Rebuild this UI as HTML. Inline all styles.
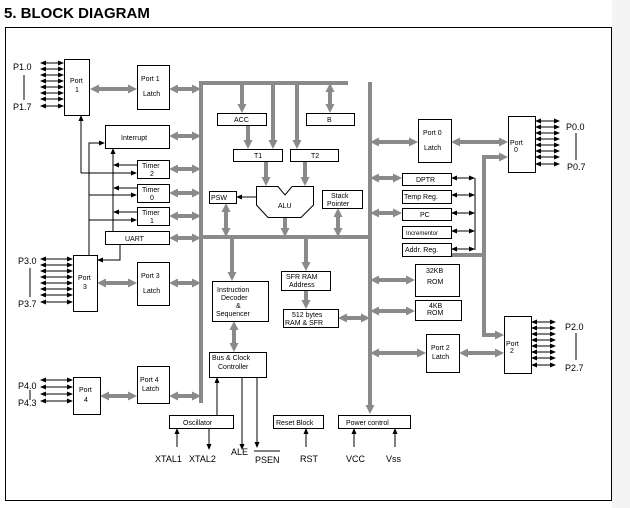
<!DOCTYPE html>
<html><head><meta charset="utf-8"><style>
html,body{margin:0;padding:0;background:#fff}
svg{display:block}
text{font-family:"Liberation Sans",sans-serif;fill:#000}
.b{fill:#fff;stroke:#000;stroke-width:1}
.g{stroke:#8a8a8a;stroke-width:4;fill:none}
.k{stroke:#000;stroke-width:1;fill:none}
.s{font-size:7px}
.p{font-size:9px}
</style></head><body>
<svg id="sv" width="630" height="508" viewBox="0 0 630 508" xmlns="http://www.w3.org/2000/svg">
<rect x="612" y="0" width="18" height="508" fill="#f4f4f4"/>
<text x="4" y="18" style="font-size:15px;font-weight:bold">5. BLOCK DIAGRAM</text>
<rect x="5.5" y="27.5" width="606" height="473" fill="none" stroke="#000"/>
<path class="g" d="M201,82V403M199,83H348M370,82V400M201,237H370"/>
<path class="k" d="M24,75V100M30,268V297M30,390V400M576,133V160M576,333V360M475,178V250"/>
<g id="arr"></g>
<text class="p" x="13" y="70">P1.0</text><text class="p" x="13" y="110">P1.7</text>
<text class="p" x="18" y="264">P3.0</text><text class="p" x="18" y="307">P3.7</text>
<text class="p" x="18" y="389">P4.0</text><text class="p" x="18" y="406">P4.3</text>
<text class="p" x="566" y="130">P0.0</text><text class="p" x="567" y="170">P0.7</text>
<text class="p" x="565" y="330">P2.0</text><text class="p" x="565" y="371">P2.7</text>

<rect class="b" x="64.5" y="59.5" width="25" height="56"/><text class="s" x="70" y="83">Port</text><text class="s" x="75" y="92">1</text>
<rect class="b" x="137.5" y="65.5" width="32" height="44"/><text class="s" x="141" y="81">Port 1</text><text class="s" x="143" y="96">Latch</text>
<rect class="b" x="105.5" y="125.5" width="64" height="23"/><text class="s" x="121" y="140">Interrupt</text>
<rect class="b" x="137.5" y="160.5" width="32" height="18"/><text class="s" x="142" y="168">Timer</text><text class="s" x="150" y="176">2</text>
<rect class="b" x="137.5" y="184.5" width="32" height="18"/><text class="s" x="142" y="192">Timer</text><text class="s" x="150" y="200">0</text>
<rect class="b" x="137.5" y="207.5" width="32" height="18"/><text class="s" x="142" y="215">Timer</text><text class="s" x="150" y="223">1</text>
<rect class="b" x="105.5" y="231.5" width="64" height="13"/><text class="s" x="125" y="241">UART</text>
<rect class="b" x="73.5" y="255.5" width="24" height="56"/><text class="s" x="78" y="280">Port</text><text class="s" x="83" y="289">3</text>
<rect class="b" x="137.5" y="262.5" width="32" height="43"/><text class="s" x="141" y="278">Port 3</text><text class="s" x="143" y="293">Latch</text>
<rect class="b" x="73.5" y="377.5" width="27" height="37"/><text class="s" x="79" y="392">Port</text><text class="s" x="84" y="402">4</text>
<rect class="b" x="137.5" y="366.5" width="32" height="37"/><text class="s" x="140" y="382">Port 4</text><text class="s" x="142" y="391">Latch</text>
<rect class="b" x="217.5" y="113.5" width="49" height="12"/><text class="s" x="234" y="122">ACC</text>
<rect class="b" x="306.5" y="113.5" width="48" height="12"/><text class="s" x="327" y="122">B</text>
<rect class="b" x="233.5" y="149.5" width="49" height="12"/><text class="s" x="254" y="158">T1</text>
<rect class="b" x="290.5" y="149.5" width="48" height="12"/><text class="s" x="311" y="158">T2</text>
<path class="b" d="M256.5,186.5H278L285,195L292,186.5H313.5V205L301,217.5H268L256.5,205Z"/><text class="s" x="278" y="208">ALU</text>
<rect class="b" x="209.5" y="191.5" width="27" height="12"/><text class="s" x="211" y="200">PSW</text>
<rect class="b" x="322.5" y="190.5" width="40" height="18"/><text class="s" x="331" y="198">Stack</text><text class="s" x="327" y="206">Pointer</text>
<rect class="b" x="212.5" y="281.5" width="56" height="40"/><text class="s" x="217" y="292">Instruction</text><text class="s" x="221" y="300">Decoder</text><text class="s" x="236" y="308">&amp;</text><text class="s" x="216" y="316">Sequencer</text>
<rect class="b" x="281.5" y="271.5" width="49" height="19"/><text class="s" x="286" y="279">SFR RAM</text><text class="s" x="289" y="287">Address</text>
<rect class="b" x="283.5" y="309.5" width="55" height="18"/><text class="s" x="292" y="317">512 bytes</text><text class="s" x="285" y="325">RAM &amp; SFR</text>
<rect class="b" x="209.5" y="352.5" width="57" height="25"/><text class="s" x="212" y="360">Bus &amp; Clock</text><text class="s" x="218" y="369">Controller</text>
<rect class="b" x="169.5" y="415.5" width="64" height="13"/><text class="s" x="183" y="425">Oscillator</text>
<rect class="b" x="273.5" y="415.5" width="50" height="13"/><text class="s" x="276" y="425">Reset Block</text>
<rect class="b" x="338.5" y="415.5" width="72" height="13"/><text class="s" x="346" y="425">Power control</text>
<text class="p" x="155" y="462">XTAL1</text><text class="p" x="189" y="462">XTAL2</text>
<text class="p" x="231" y="455">ALE</text><text class="p" x="255" y="463">PSEN</text><path class="k" d="M254,451H280"/>
<text class="p" x="300" y="462">RST</text><text class="p" x="346" y="462">VCC</text><text class="p" x="386" y="462">Vss</text>
<rect class="b" x="418.5" y="119.5" width="33" height="43"/><text class="s" x="423" y="135">Port 0</text><text class="s" x="424" y="150">Latch</text>
<rect class="b" x="508.5" y="116.5" width="27" height="56"/><text class="s" x="510" y="145">Port</text><text class="s" x="514" y="152">0</text>
<rect class="b" x="402.5" y="173.5" width="49" height="12"/><text class="s" x="416" y="182">DPTR</text>
<rect class="b" x="402.5" y="190.5" width="49" height="13"/><text class="s" x="404" y="199">Temp Reg.</text>
<rect class="b" x="402.5" y="208.5" width="49" height="12"/><text class="s" x="420" y="217">PC</text>
<rect class="b" x="402.5" y="226.5" width="49" height="12"/><text x="406" y="235" style="font-size:6px">Incrementor</text>
<rect class="b" x="402.5" y="243.5" width="49" height="13"/><text class="s" x="405" y="252">Addr. Reg.</text>
<rect class="b" x="415.5" y="264.5" width="44" height="32"/><text class="s" x="426" y="273">32KB</text><text class="s" x="427" y="284">ROM</text>
<rect class="b" x="415.5" y="300.5" width="46" height="20"/><text class="s" x="429" y="308">4KB</text><text class="s" x="427" y="315">ROM</text>
<rect class="b" x="426.5" y="334.5" width="33" height="38"/><text class="s" x="431" y="350">Port 2</text><text class="s" x="432" y="359">Latch</text>
<rect class="b" x="504.5" y="316.5" width="27" height="57"/><text class="s" x="506" y="346">Port</text><text class="s" x="510" y="353">2</text>
</svg>
<script>
(function(){
var NS="http://www.w3.org/2000/svg",G=document.getElementById("arr"),out="";
function head(x,y,px,py,L,W,c){var dx=x-px,dy=y-py,d=Math.hypot(dx,dy);dx/=d;dy/=d;
var bx=x-dx*L,by=y-dy*L;out+='<polygon fill="'+c+'" points="'+x+','+y+' '+(bx-dy*W/2)+','+(by+dx*W/2)+' '+(bx+dy*W/2)+','+(by-dx*W/2)+'"/>';return [bx,by];}
// pts: array of points, s: arrow at start, e: at end, gray?
function A(pts,s,e,g){var c=g?"#8a8a8a":"#000",L=g?9:6,W=g?9:5,sw=g?4:1;
var p=pts.map(function(q){return q.slice();});
if(e){var n=p.length;var b=head(p[n-1][0],p[n-1][1],p[n-2][0],p[n-2][1],L,W,c);p[n-1]=b;}
if(s){var b2=head(p[0][0],p[0][1],p[1][0],p[1][1],L,W,c);p[0]=b2;}
out+='<polyline fill="none" stroke="'+c+'" stroke-width="'+sw+'" points="'+p.map(function(q){return q.join(",");}).join(" ")+'"/>';}
function H(x1,x2,y,s,e,g){A([[x1,y],[x2,y]],s,e,g);}
function V(x,y1,y2,s,e,g){A([[x,y1],[x,y2]],s,e,g);}
// pin arrows
[63,69,75,81,87,93,99,106].forEach(function(y){H(40,64,y,1,1,0);});
[259,265,271,277,283,289,295,302].forEach(function(y){H(40,73,y,1,1,0);});
[380,387,394,401].forEach(function(y){H(40,73,y,1,1,0);});
[121,127,133,139,145,151,157,164].forEach(function(y){H(535,560,y,1,1,0);});
[322,328,334,340,346,352,358,365].forEach(function(y){H(531,556,y,1,1,0);});
[178,195,213,231,249].forEach(function(y){H(451,475,y,1,1,0);});
// gray double
[[90,137,89],[169,201,89],[106,137,136],[169,201,136],[169,201,169],[169,201,193],[169,201,216],[169,201,238],[97,137,283],[169,201,283],[100,137,396],[169,201,396],
 [370,418,142],[451,508,142],[370,402,178],[370,402,213],[370,415,280],[370,415,311],[370,426,353],[459,504,353],[338,370,318]].forEach(function(a){H(a[0],a[1],a[2],1,1,1);});
[[330,83,113],[226,203,237],[338,208,237],[234,321,352]].forEach(function(a){V(a[0],a[1],a[2],1,1,1);});
// gray single
[[242,83,113],[248,125,149],[273,83,149],[297,83,149],[266,161,186],[305,161,186],[285,217,237],[232,237,281],[306,237,271],[306,290,309],[370,395,414]].forEach(function(a){V(a[0],a[1],a[2],0,1,1);});
A([[451,255],[484,255],[484,157],[508,157]],0,1,1);
A([[484,250],[484,335],[504,335]],0,1,1);
// black control
V(81,173,115,0,1,0);A([[81,173],[137,173]],0,1,0);
A([[89,255],[89,143],[105,143]],0,1,0);
H(89,137,195,0,1,0);H(89,137,220,0,1,0);
V(113,231,148,0,1,0);
H(137,113,165,0,1,0);H(137,113,188,0,1,0);H(137,113,212,0,1,0);
A([[120,244],[120,260],[97,260]],0,1,0);
H(256,236,197,0,1,0);
V(217,415,377,0,1,0);V(177,447,428,0,1,0);V(209,428,450,0,1,0);
V(242,377,450,0,1,0);V(257,377,448,0,1,0);V(306,447,428,0,1,0);V(354,447,428,0,1,0);V(395,447,428,0,1,0);
G.innerHTML=out;
})();
</script>
</body></html>
